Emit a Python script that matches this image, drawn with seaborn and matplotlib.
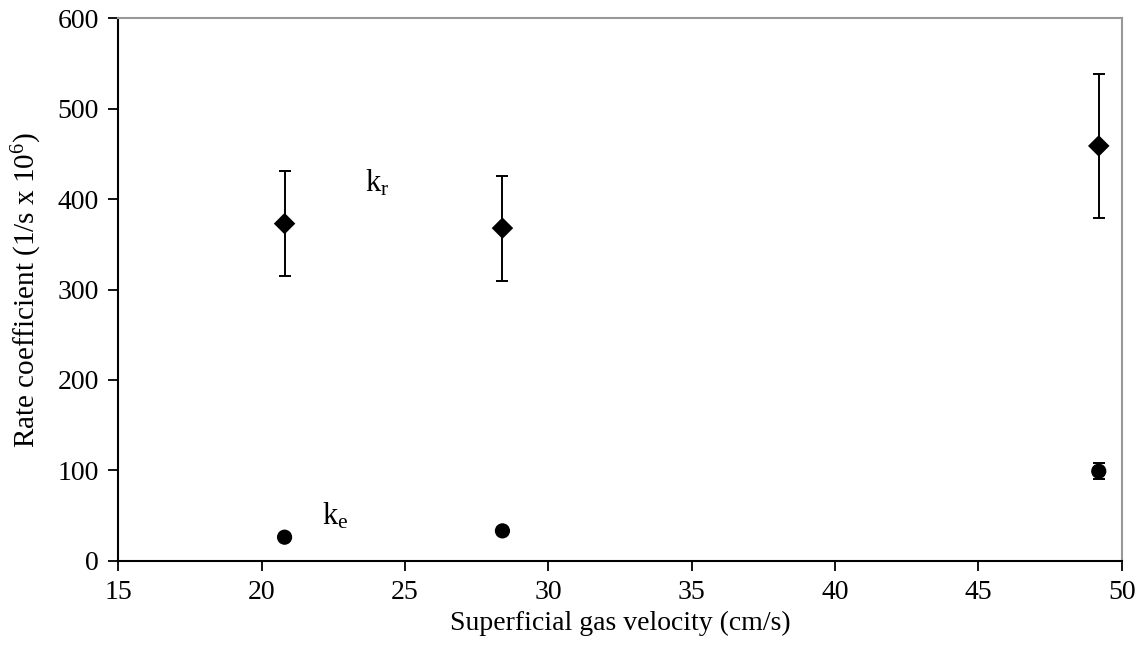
import matplotlib
matplotlib.use("Agg")
import matplotlib.pyplot as plt
import seaborn as sns
import pandas as pd

# Data
velocity = [20.8, 28.4, 49.2]
kr_values = [373, 368, 459]
kr_err = [58, 58, 80]
ke_values = [26, 33, 99]
ke_err = [3, 3, 9]

x_ticks = [15, 20, 25, 30, 35, 40, 45, 50]
y_ticks = [0, 100, 200, 300, 400, 500, 600]

sns.set_theme(style="white")
plt.rcParams['font.family'] = ['Liberation Serif', 'DejaVu Serif']
plt.rcParams['mathtext.fontset'] = 'custom'
plt.rcParams['mathtext.rm'] = 'Liberation Serif'
plt.rcParams['mathtext.it'] = 'Liberation Serif:italic'

df = pd.DataFrame({
    "velocity": velocity * 2,
    "value": kr_values + ke_values,
    "err": kr_err + ke_err,
    "series": ["kr"] * 3 + ["ke"] * 3,
})

fig = plt.figure(figsize=(11.44, 6.58), dpi=100)
ax = fig.add_axes([0.1034, 0.1479, 0.8771, 0.8240])

ax.errorbar(df["velocity"], df["value"], yerr=df["err"], fmt="none",
            ecolor="black", elinewidth=1.4, capsize=4.5, capthick=1.4, zorder=2)
sns.scatterplot(data=df, x="velocity", y="value", style="series",
                markers={"kr": "D", "ke": "o"}, hue="series",
                palette={"kr": "black", "ke": "black"},
                s=120, edgecolor="black", linewidth=0, legend=False, ax=ax, zorder=3)

ax.set_xlim(15, 50)
ax.set_ylim(0, 600)
ax.set_xticks(x_ticks)
ax.set_yticks(y_ticks)
ax.tick_params(axis="both", direction="out", length=7, width=1.3, colors="black",
               labelsize=20, pad=7, bottom=True, left=True)

ax.set_xlabel("Superficial gas velocity (cm/s)", fontsize=20, labelpad=4, color="black")
ax.set_ylabel("Rate coefficient (1/s x 10$^{6}$)", fontsize=21, labelpad=10, color="black")

for side in ["left", "bottom"]:
    ax.spines[side].set_color("black")
    ax.spines[side].set_linewidth(1.5)
for side in ["top", "right"]:
    ax.spines[side].set_color("#999999")
    ax.spines[side].set_linewidth(1.5)

ax.text(23.6, 408, "k$_\\mathrm{r}$", fontsize=22, color="black")
ax.text(22.1, 40, "k$_\\mathrm{e}$", fontsize=22, color="black")

fig.savefig("out.png", dpi=100)
